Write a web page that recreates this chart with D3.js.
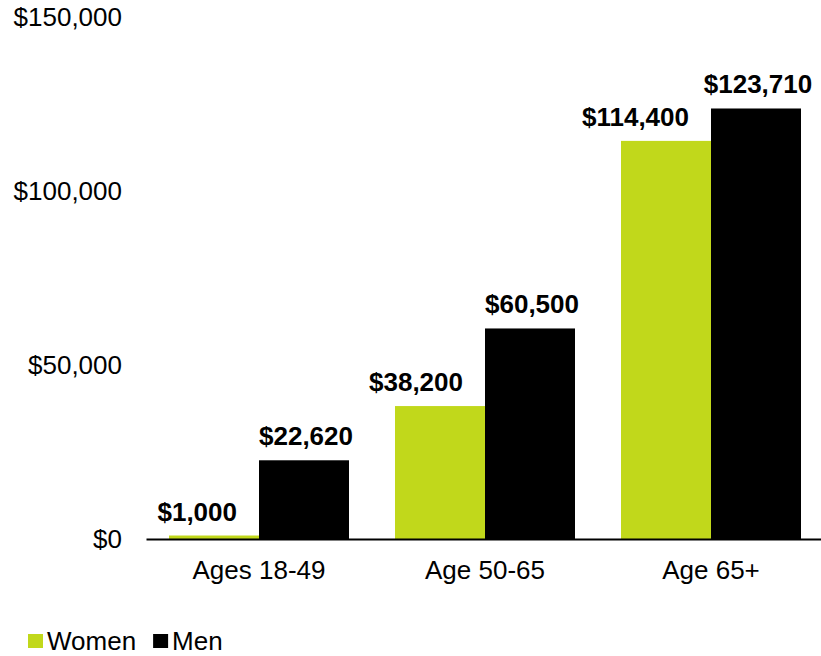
<!DOCTYPE html>
<html>
<head>
<meta charset="utf-8">
<script src="https://cdn.jsdelivr.net/npm/d3@7"></script>
<style>
  html, body { margin: 0; padding: 0; background: #fff; }
  svg { display: block; font-family: Arial, "Liberation Sans", sans-serif; }
</style>
</head>
<body>
<svg id="chart" width="821" height="656"></svg>
<script>
// Average value by age group, women vs. men
const categories = ["Ages 18-49", "Age 50-65", "Age 65+"];
const seriesNames = ["Women", "Men"];
const women = [1000, 38200, 114400];
const men = [22620, 60500, 123710];
const yTicks = [0, 50000, 100000, 150000];
const colors = ["#c1d81b", "#000000"];

const svg = d3.select("#chart");
const plot = { left: 146, right: 824, top: 17, bottom: 539 };
const FONT = 26;

const rows = categories.map((c, i) => ({ cat: c, values: [women[i], men[i]] }));

const x0 = d3.scaleBand().domain(categories).range([plot.left, plot.right]).paddingInner(0).paddingOuter(0);
const x1 = d3.scaleBand().domain(seriesNames).range([0, 180]);
const groupOffset = (x0.bandwidth() - 180) / 2;
const y = d3.scaleLinear().domain([0, 150000]).range([plot.bottom, plot.top]);

const money = d3.format("$,");

// Y tick labels (no axis line)
svg.append("g")
  .selectAll("text")
  .data(yTicks)
  .join("text")
  .attr("x", 122)
  .attr("y", d => y(d))
  .attr("dy", "0.35em")
  .attr("text-anchor", "end")
  .attr("font-size", FONT)
  .attr("fill", "#000")
  .text(d => money(d));

// Bars
const groups = svg.append("g")
  .selectAll("g")
  .data(rows)
  .join("g")
  .attr("transform", d => `translate(${x0(d.cat) + groupOffset},0)`);

const cells = d => d.values.map((v, i) => ({ key: seriesNames[i], v, i }));

groups.selectAll("rect")
  .data(cells)
  .join("rect")
  .attr("x", d => x1(d.key))
  .attr("y", d => y(d.v))
  .attr("width", x1.bandwidth())
  .attr("height", d => y(0) - y(d.v))
  .attr("fill", d => colors[d.i]);

// Value labels: women's labels sit toward the left so they clear the neighbouring bar
groups.selectAll("text.val")
  .data(cells)
  .join("text")
  .attr("class", "val")
  .attr("x", d => d.i === 0
    ? x1(d.key) + x1.bandwidth() / 2 + 23
    : x1(d.key) + x1.bandwidth() / 2 + 2)
  .attr("y", d => y(d.v) - 15)
  .attr("text-anchor", d => d.i === 0 ? "end" : "middle")
  .attr("font-size", FONT)
  .attr("font-weight", "bold")
  .attr("fill", "#000")
  .text(d => money(d.v));

// Baseline axis
const xAxis = d3.axisBottom(x0).tickSize(0).tickPadding(22);
const ax = svg.append("g")
  .attr("transform", `translate(0,${plot.bottom})`)
  .call(xAxis);
ax.select(".domain").attr("stroke", "#000").attr("stroke-width", 2);
ax.selectAll("text")
  .attr("font-size", FONT)
  .attr("font-family", "Arial, 'Liberation Sans', sans-serif")
  .attr("fill", "#000");

// Legend
const legend = svg.append("g").attr("transform", "translate(28,641)");
let lx = 0;
seriesNames.forEach((name, i) => {
  legend.append("rect")
    .attr("x", lx).attr("y", -7)
    .attr("width", 15).attr("height", 14)
    .attr("fill", colors[i]);
  const t = legend.append("text")
    .attr("x", lx + 19).attr("y", 0)
    .attr("dy", "0.35em")
    .attr("font-size", FONT)
    .attr("fill", "#000")
    .text(name);
  lx += 19 + t.node().getComputedTextLength() + 17;
});
</script>
</body>
</html>
